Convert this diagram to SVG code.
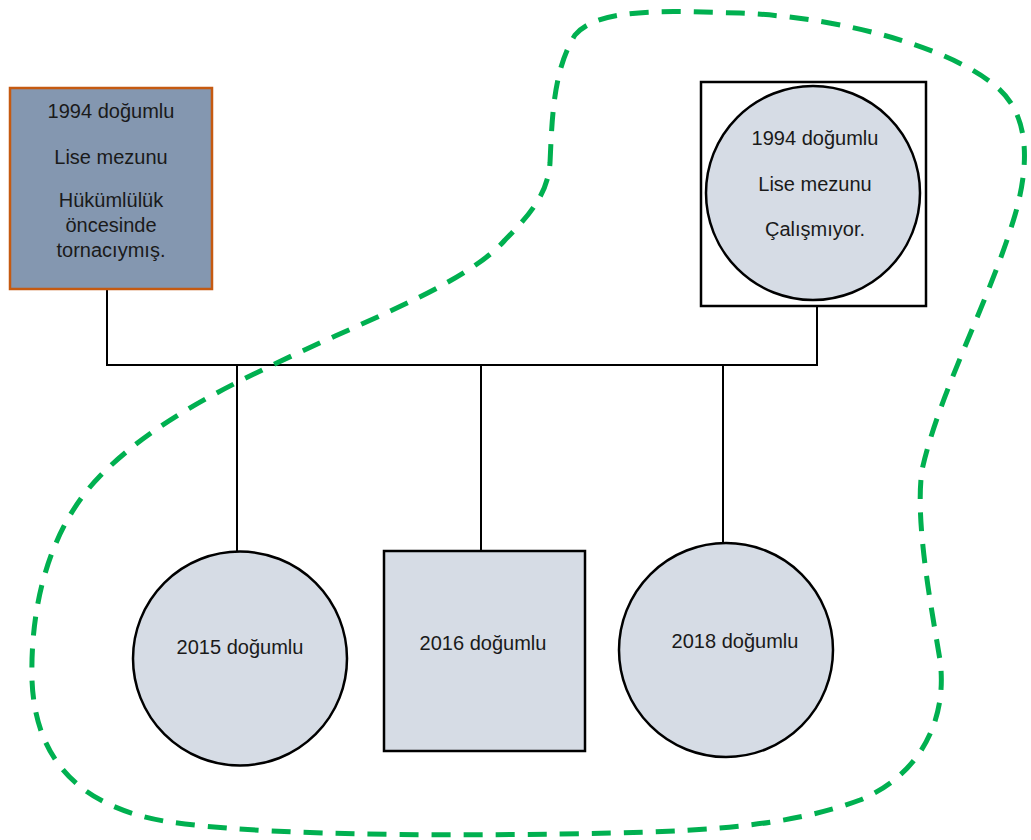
<svg xmlns="http://www.w3.org/2000/svg" width="1031" height="840" viewBox="0 0 1031 840">
<style>
.t{font-family:"Liberation Sans",Arial,sans-serif;font-size:20px;fill:#1a1a1a;text-anchor:middle}
.ln{stroke:#000;stroke-width:2;fill:none}
.sh{fill:#d6dce5;stroke:#000;stroke-width:2.5}
</style>
<rect width="1031" height="840" fill="#fff"/>
<g id="connectors">
<polyline class="ln" points="107,289 107,365 817,365 817,306"/>
<line class="ln" x1="237" y1="365" x2="237" y2="552"/>
<line class="ln" x1="481" y1="365" x2="481" y2="551"/>
<line class="ln" x1="723" y1="365" x2="723" y2="543"/>
</g>
<g id="father">
<rect x="10" y="88" width="202" height="201" fill="#8497b0" stroke="#c55a11" stroke-width="2.5"/>
<text class="t" x="111" y="118">1994 doğumlu</text>
<text class="t" x="111" y="164">Lise mezunu</text>
<text class="t" x="111" y="207">Hükümlülük</text>
<text class="t" x="111" y="232">öncesinde</text>
<text class="t" x="111" y="257">tornacıymış.</text>
</g>
<g id="mother">
<rect x="701" y="82" width="225" height="224" fill="#fff" stroke="#000" stroke-width="2.5"/>
<circle class="sh" cx="813" cy="193" r="107"/>
<text class="t" x="815" y="145">1994 doğumlu</text>
<text class="t" x="815" y="191">Lise mezunu</text>
<text class="t" x="815" y="236">Çalışmıyor.</text>
</g>
<g id="child2015">
<circle class="sh" cx="240" cy="658.5" r="107"/>
<text class="t" x="240" y="654">2015 doğumlu</text>
</g>
<g id="child2016">
<rect class="sh" x="384" y="551" width="201" height="200"/>
<text class="t" x="483" y="650">2016 doğumlu</text>
</g>
<g id="child2018">
<circle class="sh" cx="726" cy="650" r="107"/>
<text class="t" x="735" y="648">2018 doğumlu</text>
</g>
<g id="boundary">
<path d="M 550,163 C 552,120 553,70 575,35 C 600,5 680,12 740,13 C 850,18 955,50 998,88 C 1032,118 1028,170 1015,215 C 990,300 940,390 922,470 C 915,520 930,600 940,660 C 948,720 920,775 860,800 C 780,830 680,832 560,834 C 420,836 260,835 170,822 C 80,808 35,760 32,680 C 30,600 52,525 100,476 C 155,420 230,385 300,352 C 380,315 470,280 505,240 C 535,210 548,190 550,163 Z" fill="none" stroke="#00b050" stroke-width="5" stroke-dasharray="19 13"/>
</g>
</svg>
